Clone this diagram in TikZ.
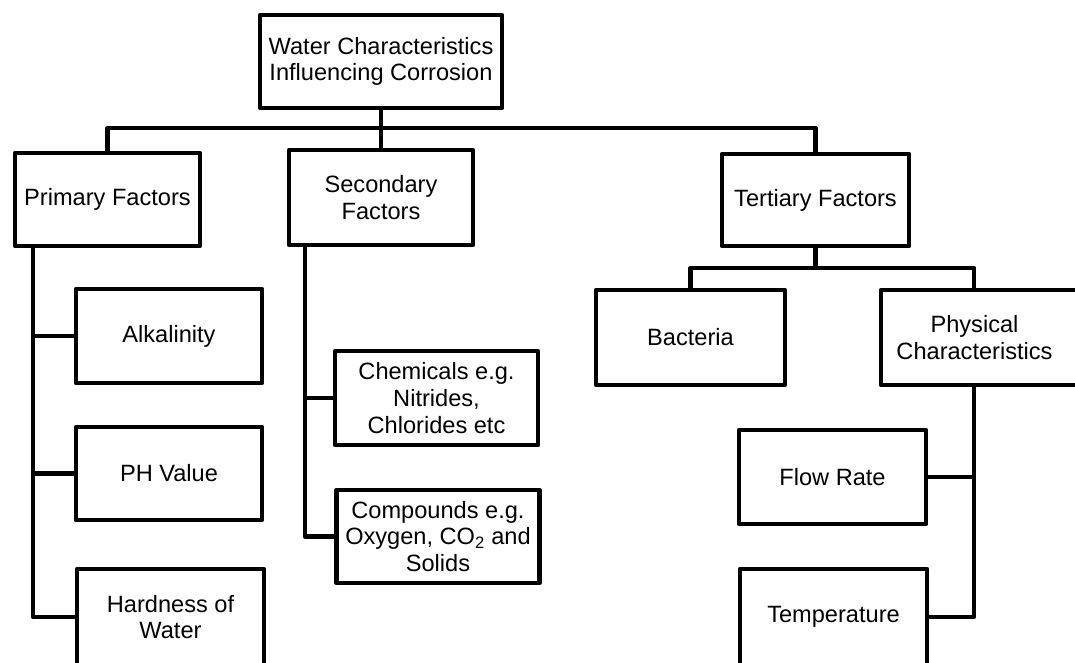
\documentclass[tikz,border=0pt]{standalone}
\usepackage{fontspec}
\setmainfont{Liberation Sans}
\begin{document}
\begin{tikzpicture}[x=1pt,y=-1pt,
  box/.style={draw=black, line width=4.5pt, line join=round, inner sep=0pt,
    align=center, font=\fontsize{23.6}{26.7}\selectfont, text=black},
  link/.style={draw=black, line width=4.5pt, line join=round}]
\useasboundingbox (0,0) rectangle (1075,663);
\clip (0,0) rectangle (1075,663);
% boxes
\node[box, minimum width=242, minimum height=93] (top) at (381,61.5) {Water Characteristics\\Influencing Corrosion};
\node[box, minimum width=185, minimum height=93] (prim) at (107.5,199.5) {Primary Factors};
\node[box, minimum width=184, minimum height=95] (sec) at (381,197.5) {Secondary\\Factors};
\node[box, minimum width=187, minimum height=92] (ter) at (815.5,200) {Tertiary Factors};
\node[box, minimum width=186, minimum height=94] (alk) at (169,336) {Alkalinity};
\node[box, minimum width=186, minimum height=93] (ph) at (169,473.5) {PH Value};
\node[box, minimum width=187, minimum height=96] (hard) at (170.5,617) {Hardness of\\Water};
\node[box, minimum width=203, minimum height=94] (chem) at (436.5,398) {Chemicals e.g.\\Nitrides,\\Chlorides etc};
\node[box, minimum width=203, minimum height=93] (comp) at (438,536.5) {Compounds e.g.\\Oxygen, CO\textsubscript{2} and\\Solids};
\node[box, minimum width=189, minimum height=95] (bac) at (690.5,337.5) {Bacteria};
\node[box, minimum width=199, minimum height=95] (phy) at (980.5,337.5) {Physical\rule{12pt}{0pt}\\Characteristics\rule{12pt}{0pt}};
\node[box, minimum width=187, minimum height=94] (flow) at (832.5,477) {Flow Rate};
\node[box, minimum width=187, minimum height=96] (temp) at (833.5,617) {Temperature};
% helper coordinates
\coordinate (bus1) at (0,128);
\coordinate (sp1) at (33,0);
\coordinate (sp2) at (305,0);
\coordinate (bus2) at (0,268);
\coordinate (sp3) at (974,0);
% top level
\draw[link] (top.south) -- (top.south |- bus1);
\draw[link] (prim.north) -- (prim.north |- bus1) -- (ter.north |- bus1) -- (ter.north);
\draw[link] (sec.north) -- (sec.north |- bus1);
% primary
\draw[link] (prim.south -| sp1) |- (hard.west);
\draw[link] (alk.west) -- (alk.west -| sp1);
\draw[link] (ph.west) -- (ph.west -| sp1);
% secondary
\draw[link] (sec.south -| sp2) |- (comp.west);
\draw[link] (chem.west) -- (chem.west -| sp2);
% tertiary
\draw[link] (ter.south) -- (ter.south |- bus2);
\draw[link] (bac.north) -- (bac.north |- bus2) -- (sp3 |- bus2) -- (sp3 |- phy.north);
\draw[link] (sp3 |- phy.south) |- (temp.east);
\draw[link] (flow.east) -- (flow.east -| sp3);
\end{tikzpicture}
\end{document}
